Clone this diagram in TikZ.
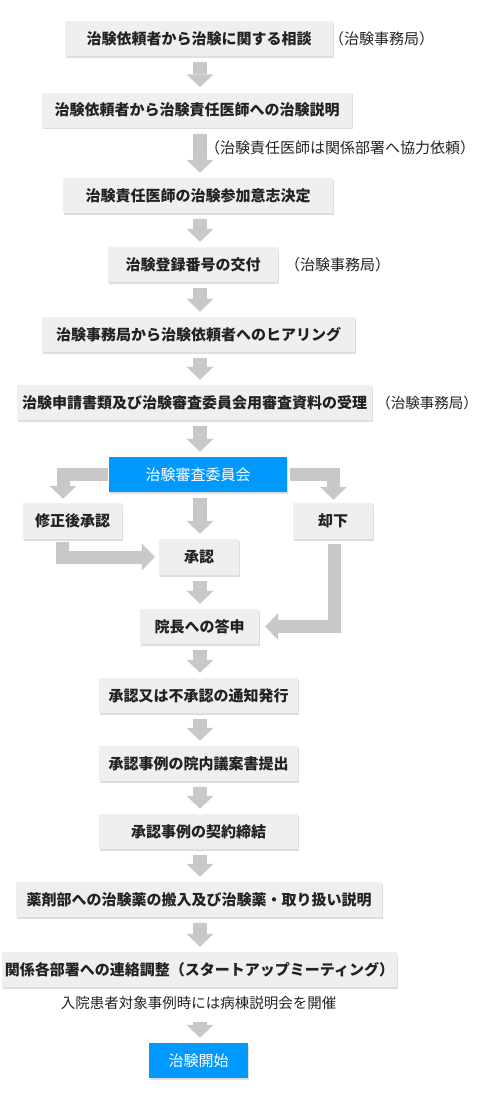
\documentclass[tikz,border=0pt]{standalone}
\usepackage{fontspec}
\newfontfamily\jp{Noto Sans CJK JP}
\usetikzlibrary{arrows.meta,calc,shadows}
\definecolor{boxgray}{RGB}{239,239,239}
\definecolor{arrgray}{RGB}{200,200,200}
\definecolor{blueone}{RGB}{0,153,255}
\definecolor{txt}{RGB}{34,34,34}
\begin{document}
\begin{tikzpicture}[x=1pt,y=-1pt,
  box/.style={fill=boxgray, inner sep=0pt, minimum height=35pt, text=txt,
    font=\jp\bfseries\fontsize{15}{18}\selectfont,
    drop shadow={shadow xshift=1.2pt,shadow yshift=-1.5pt,fill=black,opacity=0.13}},
  bluebox/.style={box, fill=blueone, text=white, font=\jp\fontsize{15}{18}\selectfont},
  note/.style={inner sep=0pt, text=txt, font=\jp\fontsize{14.5}{17}\selectfont},
  sidelabel/.style={note, font=\jp\fontsize{15}{18}\selectfont},
  downarrow/.style={draw=arrgray, line width=14pt, shorten <=6pt, shorten >=5pt,
    -{Triangle[width=27pt,length=13pt,line width=0pt]}},
  bentarrow/.style={draw=arrgray, line width=13pt, line join=miter,
    -{Triangle[width=27pt,length=13pt,line width=0pt]}},
]
\useasboundingbox (0,0) rectangle (478,1100);
\coordinate (ax) at (200,0);

% main column
\node[box, minimum width=268pt] (b1) at (199,38.5) {治験依頼者から治験に関する相談};
\node[box, minimum width=310pt] (b2) at (197,110) {治験依頼者から治験責任医師への治験説明};
\node[box, minimum width=270pt] (b3) at (198,195.5) {治験責任医師の治験参加意志決定};
\node[box, minimum width=170pt] (b4) at (193,264.5) {治験登録番号の交付};
\node[box, minimum width=313pt] (b5) at (198.5,334.5) {治験事務局から治験依頼者へのヒアリング};
\node[box, minimum width=355pt] (b6) at (194.5,402.5) {治験申請書類及び治験審査委員会用審査資料の受理};
\node[bluebox, minimum width=178pt] (bc) at (198,474.5) {治験審査委員会};
\node[box, minimum width=99pt, minimum height=36pt] (bm) at (72.5,521) {修正後承認};
\node[box, minimum width=80pt, minimum height=36pt] (bk) at (333,521) {却下};
\node[box, minimum width=80pt, minimum height=36pt] (ba) at (199,557) {承認};
\node[box, minimum width=119pt] (bi) at (199.5,626.5) {院長への答申};
\node[box, minimum width=199pt] (bn) at (198.5,695.5) {承認又は不承認の通知発行};
\node[box, minimum width=199pt] (bg) at (198.5,763.5) {承認事例の院内議案書提出};
\node[box, minimum width=199pt] (bt) at (198.5,831.5) {承認事例の契約締結};
\node[box, minimum width=366pt] (by) at (199,899.5) {薬剤部への治験薬の搬入及び治験薬・取り扱い説明};
\node[box, minimum width=395pt] (br) at (199.5,969.5) {関係各部署への連絡調整（スタートアップミーティング）};
\node[bluebox, minimum width=99pt] (bs) at (198.5,1060.5) {治験開始};

% side labels
\node[sidelabel] (l1) at (381.5,38.5) {（治験事務局）};
\node[sidelabel] (l2) at (340,148) {（治験責任医師は関係部署へ協力依頼）};
\node[sidelabel] (l4) at (337.5,265) {（治験事務局）};
\node[note] (l6) at (427,403) {（治験事務局）};
\node[note] (n1) at (198.5,1003) {入院患者対象事例時には病棟説明会を開催};

% straight arrows
\draw[downarrow] (b1.south -| ax) -- (b2.north -| ax);
\draw[downarrow] (b2.south -| ax) -- (b3.north -| ax);
\draw[downarrow] (b3.south -| ax) -- (b4.north -| ax);
\draw[downarrow] (b4.south -| ax) -- (b5.north -| ax);
\draw[downarrow] (b5.south -| ax) -- (b6.north -| ax);
\draw[downarrow] (b6.south -| ax) -- (bc.north -| ax);
\draw[downarrow] (bc.south -| ax) -- (ba.north -| ax);
\draw[downarrow] (ba.south -| ax) -- (bi.north -| ax);
\draw[downarrow] (bi.south -| ax) -- (bn.north -| ax);
\draw[downarrow] (bn.south -| ax) -- (bg.north -| ax);
\draw[downarrow] (bg.south -| ax) -- (bt.north -| ax);
\draw[downarrow] (bt.south -| ax) -- (by.north -| ax);
\draw[downarrow] (by.south -| ax) -- (br.north -| ax);
\draw[downarrow] ($(n1.south -| ax)+(0,6)$) -- (bs.north -| ax);

% bent arrows
\draw[bentarrow] ($(bc.west)+(-1,0)$) -| ($(bm.north)+(-9.5,-4)$);
\draw[bentarrow] ($(bc.east)+(3,0)$) -| ($(bk.north)+(0.5,-3)$);
\draw[bentarrow] ($(bm.south)+(-10,3)$) |- ($(ba.west)+(-4,0)$);
\draw[bentarrow] ($(bk.south)+(1.5,5)$) |- ($(bi.east)+(6,0)$);
\end{tikzpicture}
\end{document}
